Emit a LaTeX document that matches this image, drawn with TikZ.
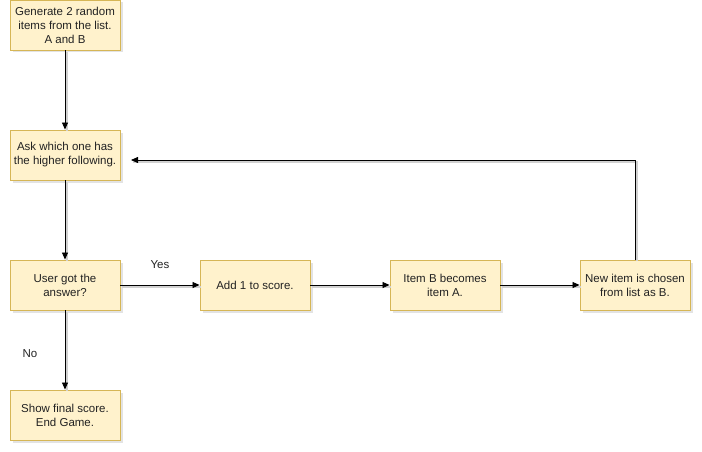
\documentclass[tikz,border=0pt]{standalone}
\usepackage{fontspec}
\setmainfont{Liberation Sans}
\usetikzlibrary{shadows,arrows.meta}
\definecolor{boxfill}{HTML}{FFF2CC}
\definecolor{boxline}{HTML}{D6B656}
\definecolor{txt}{HTML}{222222}
\begin{document}
\begin{tikzpicture}[x=1pt,y=-1pt,
  stepbox/.style={draw=boxline, fill=boxfill, line width=0.9pt,
    minimum width=110pt, minimum height=50pt, inner sep=0pt,
    align=center, font=\fontsize{11.5}{14}\selectfont, text=txt,
    drop shadow={opacity=0.22, shadow xshift=2.5pt, shadow yshift=-2.5pt}},
  conn/.style={draw=black, line width=0.8pt, -{Triangle[length=7pt,width=6pt]}},
  connshadow/.style={draw=black!18, line width=1.4pt, transform canvas={xshift=1.8pt,yshift=-1.8pt}},
  lbl/.style={font=\fontsize{11.5}{14}\selectfont, text=txt}]
\useasboundingbox (0,0) rectangle (702,452);

\node[stepbox] (gen)   at (65,25)  {Generate 2 random\\items from the list.\\A and B};
\node[stepbox] (ask)   at (65,155) {Ask which one has\\the higher following.};
\node[stepbox] (got)   at (65,285) {User got the\\answer?};
\node[stepbox] (final) at (65,415) {Show final score.\\End Game.};
\node[stepbox] (add)   at (255,285) {Add 1 to score.};
\node[stepbox] (itemb) at (445,285) {Item B becomes\\item A.};
\node[stepbox] (newit) at (635,285) {New item is chosen\\from list as B.};

\coordinate (loopend) at (131,160);
\coordinate (loopcorner) at (635,160);

% faint line shadows
\draw[connshadow] (gen.south) -- (ask.north);
\draw[connshadow] (ask.south) -- (got.north);
\draw[connshadow] (got.south) -- (final.north);
\draw[connshadow] (got.east) -- (add.west);
\draw[connshadow] (add.east) -- (itemb.west);
\draw[connshadow] (itemb.east) -- (newit.west);
\draw[connshadow] (newit.north) -- (loopcorner) -- (loopend);

% connectors
\draw[conn] (gen.south) -- (ask.north);
\draw[conn] (ask.south) -- (got.north);
\draw[conn] (got.south) -- (final.north);
\draw[conn] (got.east) -- (add.west);
\draw[conn] (add.east) -- (itemb.west);
\draw[conn] (itemb.east) -- (newit.west);
\draw[conn] (newit.north) -- (loopcorner) -- (loopend);

\node[lbl] (yes) at (160,265) {Yes};
\node[lbl] (no)  at (30,354)  {No};
\end{tikzpicture}
\end{document}
